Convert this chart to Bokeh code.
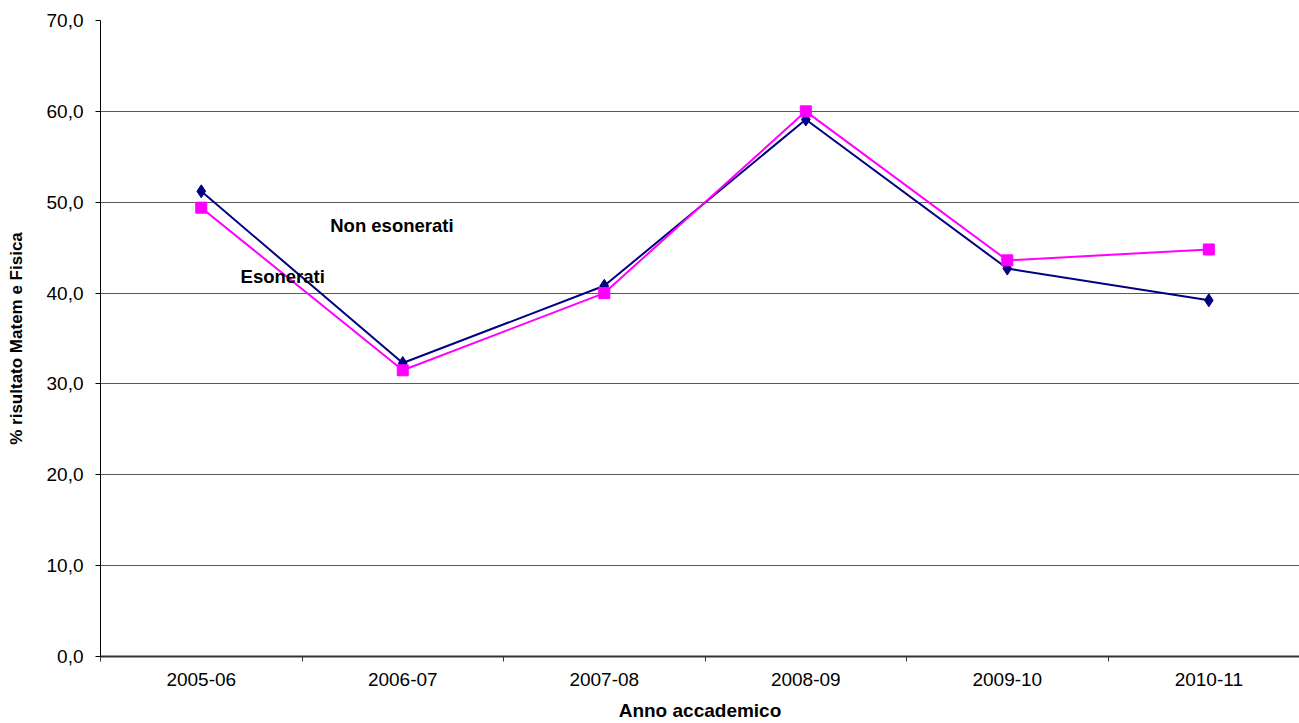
from bokeh.plotting import figure
from bokeh.models import Range1d, FixedTicker, CustomJSTickFormatter, Label
from bokeh.embed import file_html
from bokeh.resources import INLINE

anni = ["2005-06", "2006-07", "2007-08", "2008-09", "2009-10", "2010-11"]
non_esonerati = [51.2, 32.3, 40.8, 59.1, 42.7, 39.2]
esonerati = [49.4, 31.5, 40.0, 60.0, 43.6, 44.8]
y_ticks = [0, 10, 20, 30, 40, 50, 60, 70]

FONT = "Liberation Sans"

xs = [i + 0.5 for i in range(len(anni))]
bounds = list(range(len(anni) + 1))

p = figure(width=1299, height=723, output_backend="svg", toolbar_location=None,
           x_range=Range1d(0, 5.95), y_range=Range1d(0, 70),
           min_border_left=100, min_border_right=0, min_border_top=20, min_border_bottom=67)
p.outline_line_color = None
p.background_fill_color = "white"
p.border_fill_color = "white"

# grid
p.xgrid.visible = False
p.ygrid.ticker = FixedTicker(ticks=y_ticks)
p.ygrid.grid_line_color = "#5a5a5a"
p.ygrid.grid_line_width = 1

# y axis
p.yaxis.ticker = FixedTicker(ticks=y_ticks)
p.yaxis.formatter = CustomJSTickFormatter(code="return tick.toFixed(1).replace('.', ',');")
p.yaxis.axis_line_color = "black"
p.yaxis.major_tick_out = 5
p.yaxis.major_tick_in = 0
p.yaxis.minor_tick_line_color = None
p.yaxis.major_label_standoff = 12
p.yaxis.major_label_text_font = FONT
p.yaxis.major_label_text_font_size = "19px"
p.yaxis.major_label_text_color = "black"
p.yaxis.axis_label = "% risultato Matem e Fisica"
p.yaxis.axis_label_text_font = FONT
p.yaxis.axis_label_text_font_size = "17px"
p.yaxis.axis_label_text_font_style = "bold"
p.yaxis.axis_label_text_color = "black"
p.yaxis.axis_label_standoff = 18

# x axis
p.xaxis.ticker = FixedTicker(ticks=xs, minor_ticks=bounds)
p.xaxis.major_label_overrides = {x: a for x, a in zip(xs, anni)}
p.xaxis.axis_line_color = "#333333"
p.xaxis.axis_line_width = 2
p.xaxis.major_tick_out = 0
p.xaxis.major_tick_in = 0
p.xaxis.minor_tick_out = 5
p.xaxis.minor_tick_in = 0
p.xaxis.minor_tick_line_color = "#333333"
p.xaxis.major_label_standoff = 11
p.xaxis.major_label_text_font = FONT
p.xaxis.major_label_text_font_size = "19px"
p.xaxis.major_label_text_color = "black"
p.xaxis.axis_label = "Anno accademico"
p.xaxis.axis_label_text_font = FONT
p.xaxis.axis_label_text_font_size = "19px"
p.xaxis.axis_label_text_font_style = "bold"
p.xaxis.axis_label_text_color = "black"
p.xaxis.axis_label_standoff = 11

# series
p.line(xs, non_esonerati, line_color="#000080", line_width=2)
p.scatter(xs, non_esonerati, marker="diamond", size=13, fill_color="#000080", line_color="#000080")
p.line(xs, esonerati, line_color="#FF00FF", line_width=2)
p.scatter(xs, esonerati, marker="square", size=11, fill_color="#FF00FF", line_color="#FF00FF")

# annotations
p.add_layout(Label(x=1.14, y=47.4, text="Non esonerati", text_baseline="middle",
                   text_font=FONT, text_font_size="18.5px", text_font_style="bold", text_color="black"))
p.add_layout(Label(x=0.695, y=41.8, text="Esonerati", text_baseline="middle",
                   text_font=FONT, text_font_size="18.5px", text_font_style="bold", text_color="black"))

open("out.html", "w").write(file_html(p, INLINE))
